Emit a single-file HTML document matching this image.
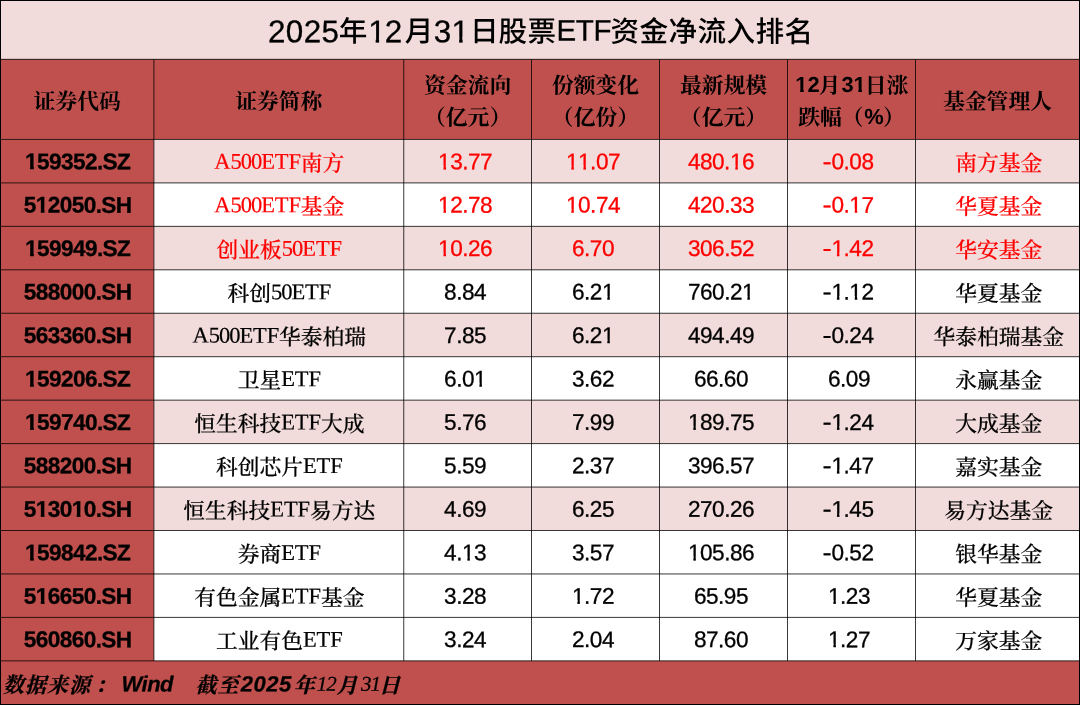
<!DOCTYPE html>
<html lang="zh-CN">
<head>
<meta charset="utf-8">
<title>2025年12月31日股票ETF资金净流入排名</title>
<style>
*{box-sizing:border-box;margin:0;padding:0}
html,body{width:1080px;height:705px;overflow:hidden;background:#fff}
body{position:relative;font-family:"Liberation Sans","Noto Sans CJK SC",sans-serif;color:#000}
.bg{position:absolute}
.c{position:absolute;width:300px;height:40px;line-height:40px;text-align:center;white-space:nowrap}
.title{font-family:"Liberation Sans","Noto Sans CJK SC",sans-serif;font-size:28.6px;width:700px;text-align:left;height:50px;line-height:50px;letter-spacing:0.4px;font-weight:500}
.title .d{font-size:31.4px;letter-spacing:0.4px;position:relative;top:0.5px;font-weight:400;-webkit-text-stroke:0.3px currentColor}
.title .e{font-size:29.5px;letter-spacing:-0.3px;position:relative;top:-0.7px;font-weight:400;-webkit-text-stroke:0.3px currentColor}
.h{font-family:"Liberation Serif","Noto Serif CJK SC",serif;font-weight:700;font-size:21.8px;height:auto;line-height:32px}
.h .l{font-family:"Liberation Sans",sans-serif;font-weight:bold;position:relative;top:-0.8px;left:0.8px}
.code{font-family:"Liberation Sans",sans-serif;font-weight:bold;-webkit-text-stroke:0.3px currentColor;font-size:22.6px;letter-spacing:-0.6px}
.num{font-family:"Liberation Sans",sans-serif;-webkit-text-stroke:0.3px currentColor;font-size:22.6px;letter-spacing:-0.5px}
.name{font-family:"Liberation Serif","Noto Serif CJK SC",serif;font-size:21.75px;font-weight:500;-webkit-text-stroke:0.2px currentColor}
.name .l{font-size:22.5px;letter-spacing:-0.1px;position:relative;top:-2.5px}
.name .n{letter-spacing:-1.0px}
.name .g{margin-right:0px}
.o{display:inline-block;clip-path:polygon(0 0,100% 0,100% calc(50% + 0.15em),0.35em calc(50% + 0.15em),0.35em 100%,0.24em 100%,0.24em calc(50% + 0.15em),0 calc(50% + 0.15em))}
.title .o{margin-right:-1.2px}
.o.b{clip-path:polygon(0 0,100% 0,100% calc(50% + 0.15em),0.385em calc(50% + 0.15em),0.385em 100%,0.22em 100%,0.22em calc(50% + 0.15em),0 calc(50% + 0.15em))}
.m{display:inline-block;transform:scaleX(1.22);transform-origin:100% 50%}
.r{color:#FF0000}
.foot{font-family:"Liberation Serif","Noto Serif CJK SC",serif;font-weight:bold;font-style:italic;font-size:21px;letter-spacing:1.0px;-webkit-text-stroke:0.25px currentColor;text-align:left;width:600px}
.foot .l{font-family:"Liberation Sans",sans-serif;font-size:22px;letter-spacing:0;position:relative;top:-1.5px}
.foot .w{letter-spacing:-0.5px;top:-1px}
.foot .y{letter-spacing:0.5px}
.foot .s{font-family:"Liberation Serif",serif;font-weight:400;font-size:21px;letter-spacing:-1px;position:relative;top:-2.5px}
svg{position:absolute;left:0;top:0}
</style>
</head>
<body>
<svg width="1080" height="705" viewBox="0 0 1080 705" aria-hidden="true">
<rect x="0" y="0" width="1080" height="59.35" fill="#F2DCDB"/>
<rect x="0" y="59.35" width="1080" height="80.10" fill="#C0504D"/>
<rect x="0" y="139.45" width="153.90" height="565.55" fill="#C0504D"/>
<rect x="0" y="660.85" width="1080" height="44.15" fill="#C0504D"/>
<rect x="153.90" y="139.45" width="926.10" height="43.45" fill="#F2DCDB"/>
<rect x="153.90" y="226.35" width="926.10" height="43.45" fill="#F2DCDB"/>
<rect x="153.90" y="313.25" width="926.10" height="43.45" fill="#F2DCDB"/>
<rect x="153.90" y="400.15" width="926.10" height="43.45" fill="#F2DCDB"/>
<rect x="153.90" y="487.05" width="926.10" height="43.45" fill="#F2DCDB"/>
<rect x="153.40" y="59.35" width="1" height="601.50" fill="#000" fill-opacity="0.78"/>
<rect x="403.25" y="59.35" width="1" height="601.50" fill="#000" fill-opacity="0.78"/>
<rect x="531.00" y="59.35" width="1" height="601.50" fill="#000" fill-opacity="0.78"/>
<rect x="659.00" y="59.35" width="1" height="601.50" fill="#000" fill-opacity="0.78"/>
<rect x="787.00" y="59.35" width="1" height="601.50" fill="#000" fill-opacity="0.78"/>
<rect x="915.00" y="59.35" width="1" height="601.50" fill="#000" fill-opacity="0.78"/>
<rect x="0" y="138.95" width="1080" height="1" fill="#000" fill-opacity="0.78"/>
<rect x="0" y="182.40" width="1080" height="1" fill="#000" fill-opacity="0.78"/>
<rect x="0" y="225.85" width="1080" height="1" fill="#000" fill-opacity="0.78"/>
<rect x="0" y="269.30" width="1080" height="1" fill="#000" fill-opacity="0.78"/>
<rect x="0" y="312.75" width="1080" height="1" fill="#000" fill-opacity="0.78"/>
<rect x="0" y="356.20" width="1080" height="1" fill="#000" fill-opacity="0.78"/>
<rect x="0" y="399.65" width="1080" height="1" fill="#000" fill-opacity="0.78"/>
<rect x="0" y="443.10" width="1080" height="1" fill="#000" fill-opacity="0.78"/>
<rect x="0" y="486.55" width="1080" height="1" fill="#000" fill-opacity="0.78"/>
<rect x="0" y="530.00" width="1080" height="1" fill="#000" fill-opacity="0.78"/>
<rect x="0" y="573.45" width="1080" height="1" fill="#000" fill-opacity="0.78"/>
<rect x="0" y="616.90" width="1080" height="1" fill="#000" fill-opacity="0.78"/>
<rect x="0" y="660.35" width="1080" height="1" fill="#000" fill-opacity="0.78"/>
<rect x="0" y="58.85" width="1080" height="1" fill="#000" fill-opacity="0.85"/>
<rect x="0" y="0" width="1080" height="1" fill="#000"/><rect x="0" y="704" width="1080" height="1" fill="#000"/><rect x="0" y="0" width="1" height="705" fill="#000"/><rect x="1079" y="0" width="1" height="705" fill="#000"/>
</svg>
<div class="c title" style="left:268px;top:6px;transform:translate(0.00px,0.50px) rotate(0.05deg)"><span class="d">2025</span><span style="margin-left:-0.7px">年</span><span class="d" style="margin-left:0.4px"><span class="o">1</span>2</span><span style="margin-left:2.2px">月</span><span class="d" style="margin-left:-0.1px">3<span class="o">1</span></span><span style="margin-left:1.6px">日</span><span style="margin-left:-0.3px">股</span><span style="margin-left:-0.1px">票</span><span class="e">ETF</span><span style="margin-left:-0.8px">资金净流入排名</span></div>
<div class="c h" style="left:-73px;top:86px;transform:translate(0.20px,0.05px) rotate(0.05deg)">证券代码</div>
<div class="c h" style="left:128px;top:86px;transform:translate(0.82px,0.05px) rotate(0.05deg)">证券简称</div>
<div class="c h" style="left:317px;top:70px;transform:translate(0.62px,0.05px) rotate(0.05deg)">资金流向<br>（亿元）</div>
<div class="c h" style="left:445px;top:70px;transform:translate(0.50px,0.05px) rotate(0.05deg)">份额变化<br>（亿份）</div>
<div class="c h" style="left:573px;top:70px;transform:translate(0.50px,0.05px) rotate(0.05deg)">最新规模<br>（亿元）</div>
<div class="c h" style="left:701px;top:70px;transform:translate(0.50px,0.05px) rotate(0.05deg)"><span class="l"><span class="o b">1</span>2</span>月<span class="l">3<span class="o b">1</span></span>日涨<br>跌幅（<span class="l">%</span>）</div>
<div class="c h" style="left:847px;top:86px;transform:translate(0.50px,0.05px) rotate(0.05deg)">基金管理人</div>
<div class="c code" style="left:-73px;top:142px;transform:translate(0.70px,0.17px) rotate(0.05deg)"><span class="o b">1</span>59352.SZ</div>
<div class="c name r" style="left:129px;top:143px;transform:translate(0.32px,0.87px) rotate(0.05deg)"><span class="l">A</span><span class="l n">500</span><span class="l g">ETF</span>南方</div>
<div class="c num r" style="left:315px;top:142px;transform:translate(0.12px,0.17px) rotate(0.05deg)"><span class="o">1</span>3.77</div>
<div class="c num r" style="left:443px;top:142px;transform:translate(0.00px,0.17px) rotate(0.05deg)"><span class="o">1</span><span class="o">1</span>.07</div>
<div class="c num r" style="left:571px;top:142px;transform:translate(0.00px,0.17px) rotate(0.05deg)">480.<span class="o">1</span>6</div>
<div class="c num r" style="left:699px;top:142px;transform:translate(0.00px,0.17px) rotate(0.05deg)"><span class="m">-</span>0.08</div>
<div class="c name r" style="left:848px;top:143px;transform:translate(0.70px,0.87px) rotate(0.05deg)">南方基金</div>
<div class="c code" style="left:-73px;top:185px;transform:translate(0.70px,0.62px) rotate(0.05deg)">5<span class="o b">1</span>2050.SH</div>
<div class="c name r" style="left:129px;top:187px;transform:translate(0.32px,0.32px) rotate(0.05deg)"><span class="l">A</span><span class="l n">500</span><span class="l g">ETF</span>基金</div>
<div class="c num r" style="left:315px;top:185px;transform:translate(0.12px,0.62px) rotate(0.05deg)"><span class="o">1</span>2.78</div>
<div class="c num r" style="left:443px;top:185px;transform:translate(0.00px,0.62px) rotate(0.05deg)"><span class="o">1</span>0.74</div>
<div class="c num r" style="left:571px;top:185px;transform:translate(0.00px,0.62px) rotate(0.05deg)">420.33</div>
<div class="c num r" style="left:699px;top:185px;transform:translate(0.00px,0.62px) rotate(0.05deg)"><span class="m">-</span>0.<span class="o">1</span>7</div>
<div class="c name r" style="left:848px;top:187px;transform:translate(0.70px,0.32px) rotate(0.05deg)">华夏基金</div>
<div class="c code" style="left:-73px;top:229px;transform:translate(0.70px,0.07px) rotate(0.05deg)"><span class="o b">1</span>59949.SZ</div>
<div class="c name r" style="left:129px;top:230px;transform:translate(0.32px,0.77px) rotate(0.05deg)">创业板<span class="l n">50</span><span class="l">ETF</span></div>
<div class="c num r" style="left:315px;top:229px;transform:translate(0.12px,0.07px) rotate(0.05deg)"><span class="o">1</span>0.26</div>
<div class="c num r" style="left:443px;top:229px;transform:translate(0.00px,0.07px) rotate(0.05deg)">6.70</div>
<div class="c num r" style="left:571px;top:229px;transform:translate(0.00px,0.07px) rotate(0.05deg)">306.52</div>
<div class="c num r" style="left:699px;top:229px;transform:translate(0.00px,0.07px) rotate(0.05deg)"><span class="m">-</span><span class="o">1</span>.42</div>
<div class="c name r" style="left:848px;top:230px;transform:translate(0.70px,0.77px) rotate(0.05deg)">华安基金</div>
<div class="c code" style="left:-73px;top:272px;transform:translate(0.70px,0.52px) rotate(0.05deg)">588000.SH</div>
<div class="c name" style="left:129px;top:274px;transform:translate(0.32px,0.22px) rotate(0.05deg)">科创<span class="l n">50</span><span class="l">ETF</span></div>
<div class="c num" style="left:315px;top:272px;transform:translate(0.12px,0.52px) rotate(0.05deg)">8.84</div>
<div class="c num" style="left:443px;top:272px;transform:translate(0.00px,0.52px) rotate(0.05deg)">6.2<span class="o">1</span></div>
<div class="c num" style="left:571px;top:272px;transform:translate(0.00px,0.52px) rotate(0.05deg)">760.2<span class="o">1</span></div>
<div class="c num" style="left:699px;top:272px;transform:translate(0.00px,0.52px) rotate(0.05deg)"><span class="m">-</span><span class="o">1</span>.<span class="o">1</span>2</div>
<div class="c name" style="left:848px;top:274px;transform:translate(0.70px,0.22px) rotate(0.05deg)">华夏基金</div>
<div class="c code" style="left:-73px;top:315px;transform:translate(0.70px,0.98px) rotate(0.05deg)">563360.SH</div>
<div class="c name" style="left:129px;top:317px;transform:translate(0.32px,0.68px) rotate(0.05deg)"><span class="l">A</span><span class="l n">500</span><span class="l g">ETF</span>华泰柏瑞</div>
<div class="c num" style="left:315px;top:315px;transform:translate(0.12px,0.98px) rotate(0.05deg)">7.85</div>
<div class="c num" style="left:443px;top:315px;transform:translate(0.00px,0.98px) rotate(0.05deg)">6.2<span class="o">1</span></div>
<div class="c num" style="left:571px;top:315px;transform:translate(0.00px,0.98px) rotate(0.05deg)">494.49</div>
<div class="c num" style="left:699px;top:315px;transform:translate(0.00px,0.98px) rotate(0.05deg)"><span class="m">-</span>0.24</div>
<div class="c name" style="left:848px;top:317px;transform:translate(0.70px,0.68px) rotate(0.05deg)">华泰柏瑞基金</div>
<div class="c code" style="left:-73px;top:359px;transform:translate(0.70px,0.43px) rotate(0.05deg)"><span class="o b">1</span>59206.SZ</div>
<div class="c name" style="left:129px;top:361px;transform:translate(0.32px,0.12px) rotate(0.05deg)">卫星<span class="l">ETF</span></div>
<div class="c num" style="left:315px;top:359px;transform:translate(0.12px,0.43px) rotate(0.05deg)">6.0<span class="o">1</span></div>
<div class="c num" style="left:443px;top:359px;transform:translate(0.00px,0.43px) rotate(0.05deg)">3.62</div>
<div class="c num" style="left:571px;top:359px;transform:translate(0.00px,0.43px) rotate(0.05deg)">66.60</div>
<div class="c num" style="left:699px;top:359px;transform:translate(0.00px,0.43px) rotate(0.05deg)">6.09</div>
<div class="c name" style="left:848px;top:361px;transform:translate(0.70px,0.12px) rotate(0.05deg)">永赢基金</div>
<div class="c code" style="left:-73px;top:402px;transform:translate(0.70px,0.88px) rotate(0.05deg)"><span class="o b">1</span>59740.SZ</div>
<div class="c name" style="left:129px;top:404px;transform:translate(0.32px,0.57px) rotate(0.05deg)">恒生科技<span class="l g">ETF</span>大成</div>
<div class="c num" style="left:315px;top:402px;transform:translate(0.12px,0.88px) rotate(0.05deg)">5.76</div>
<div class="c num" style="left:443px;top:402px;transform:translate(0.00px,0.88px) rotate(0.05deg)">7.99</div>
<div class="c num" style="left:571px;top:402px;transform:translate(0.00px,0.88px) rotate(0.05deg)"><span class="o">1</span>89.75</div>
<div class="c num" style="left:699px;top:402px;transform:translate(0.00px,0.88px) rotate(0.05deg)"><span class="m">-</span><span class="o">1</span>.24</div>
<div class="c name" style="left:848px;top:404px;transform:translate(0.70px,0.57px) rotate(0.05deg)">大成基金</div>
<div class="c code" style="left:-73px;top:446px;transform:translate(0.70px,0.33px) rotate(0.05deg)">588200.SH</div>
<div class="c name" style="left:129px;top:448px;transform:translate(0.32px,0.03px) rotate(0.05deg)">科创芯片<span class="l">ETF</span></div>
<div class="c num" style="left:315px;top:446px;transform:translate(0.12px,0.33px) rotate(0.05deg)">5.59</div>
<div class="c num" style="left:443px;top:446px;transform:translate(0.00px,0.33px) rotate(0.05deg)">2.37</div>
<div class="c num" style="left:571px;top:446px;transform:translate(0.00px,0.33px) rotate(0.05deg)">396.57</div>
<div class="c num" style="left:699px;top:446px;transform:translate(0.00px,0.33px) rotate(0.05deg)"><span class="m">-</span><span class="o">1</span>.47</div>
<div class="c name" style="left:848px;top:448px;transform:translate(0.70px,0.03px) rotate(0.05deg)">嘉实基金</div>
<div class="c code" style="left:-73px;top:489px;transform:translate(0.70px,0.77px) rotate(0.05deg)">5<span class="o b">1</span>30<span class="o b">1</span>0.SH</div>
<div class="c name" style="left:129px;top:491px;transform:translate(0.32px,0.47px) rotate(0.05deg)">恒生科技<span class="l g">ETF</span>易方达</div>
<div class="c num" style="left:315px;top:489px;transform:translate(0.12px,0.77px) rotate(0.05deg)">4.69</div>
<div class="c num" style="left:443px;top:489px;transform:translate(0.00px,0.77px) rotate(0.05deg)">6.25</div>
<div class="c num" style="left:571px;top:489px;transform:translate(0.00px,0.77px) rotate(0.05deg)">270.26</div>
<div class="c num" style="left:699px;top:489px;transform:translate(0.00px,0.77px) rotate(0.05deg)"><span class="m">-</span><span class="o">1</span>.45</div>
<div class="c name" style="left:848px;top:491px;transform:translate(0.70px,0.47px) rotate(0.05deg)">易方达基金</div>
<div class="c code" style="left:-73px;top:533px;transform:translate(0.70px,0.23px) rotate(0.05deg)"><span class="o b">1</span>59842.SZ</div>
<div class="c name" style="left:129px;top:534px;transform:translate(0.32px,0.93px) rotate(0.05deg)">券商<span class="l">ETF</span></div>
<div class="c num" style="left:315px;top:533px;transform:translate(0.12px,0.23px) rotate(0.05deg)">4.<span class="o">1</span>3</div>
<div class="c num" style="left:443px;top:533px;transform:translate(0.00px,0.23px) rotate(0.05deg)">3.57</div>
<div class="c num" style="left:571px;top:533px;transform:translate(0.00px,0.23px) rotate(0.05deg)"><span class="o">1</span>05.86</div>
<div class="c num" style="left:699px;top:533px;transform:translate(0.00px,0.23px) rotate(0.05deg)"><span class="m">-</span>0.52</div>
<div class="c name" style="left:848px;top:534px;transform:translate(0.70px,0.93px) rotate(0.05deg)">银华基金</div>
<div class="c code" style="left:-73px;top:576px;transform:translate(0.70px,0.68px) rotate(0.05deg)">5<span class="o b">1</span>6650.SH</div>
<div class="c name" style="left:129px;top:578px;transform:translate(0.32px,0.38px) rotate(0.05deg)">有色金属<span class="l g">ETF</span>基金</div>
<div class="c num" style="left:315px;top:576px;transform:translate(0.12px,0.68px) rotate(0.05deg)">3.28</div>
<div class="c num" style="left:443px;top:576px;transform:translate(0.00px,0.68px) rotate(0.05deg)"><span class="o">1</span>.72</div>
<div class="c num" style="left:571px;top:576px;transform:translate(0.00px,0.68px) rotate(0.05deg)">65.95</div>
<div class="c num" style="left:699px;top:576px;transform:translate(0.00px,0.68px) rotate(0.05deg)"><span class="o">1</span>.23</div>
<div class="c name" style="left:848px;top:578px;transform:translate(0.70px,0.38px) rotate(0.05deg)">华夏基金</div>
<div class="c code" style="left:-73px;top:620px;transform:translate(0.70px,0.13px) rotate(0.05deg)">560860.SH</div>
<div class="c name" style="left:129px;top:621px;transform:translate(0.32px,0.83px) rotate(0.05deg)">工业有色<span class="l">ETF</span></div>
<div class="c num" style="left:315px;top:620px;transform:translate(0.12px,0.13px) rotate(0.05deg)">3.24</div>
<div class="c num" style="left:443px;top:620px;transform:translate(0.00px,0.13px) rotate(0.05deg)">2.04</div>
<div class="c num" style="left:571px;top:620px;transform:translate(0.00px,0.13px) rotate(0.05deg)">87.60</div>
<div class="c num" style="left:699px;top:620px;transform:translate(0.00px,0.13px) rotate(0.05deg)"><span class="o">1</span>.27</div>
<div class="c name" style="left:848px;top:621px;transform:translate(0.70px,0.83px) rotate(0.05deg)">万家基金</div>
<div class="c foot" style="left:3px;top:665px;transform:translate(0.10px,0.63px) rotate(0.05deg)"><span>数据来源</span><span style="margin-left:3.9px">：</span><span class="l w" style="margin-left:4.5px">Wind</span><span style="margin-left:22.5px">截至</span><span class="l y" style="margin-left:1.2px">2025</span><span style="margin-left:2.0px">年</span><span class="s" style="margin-left:1.0px">12</span><span style="margin-left:0.8px">月</span><span class="s" style="margin-left:2.4px">31</span><span style="margin-left:-1.0px">日</span></div>
</body>
</html>
